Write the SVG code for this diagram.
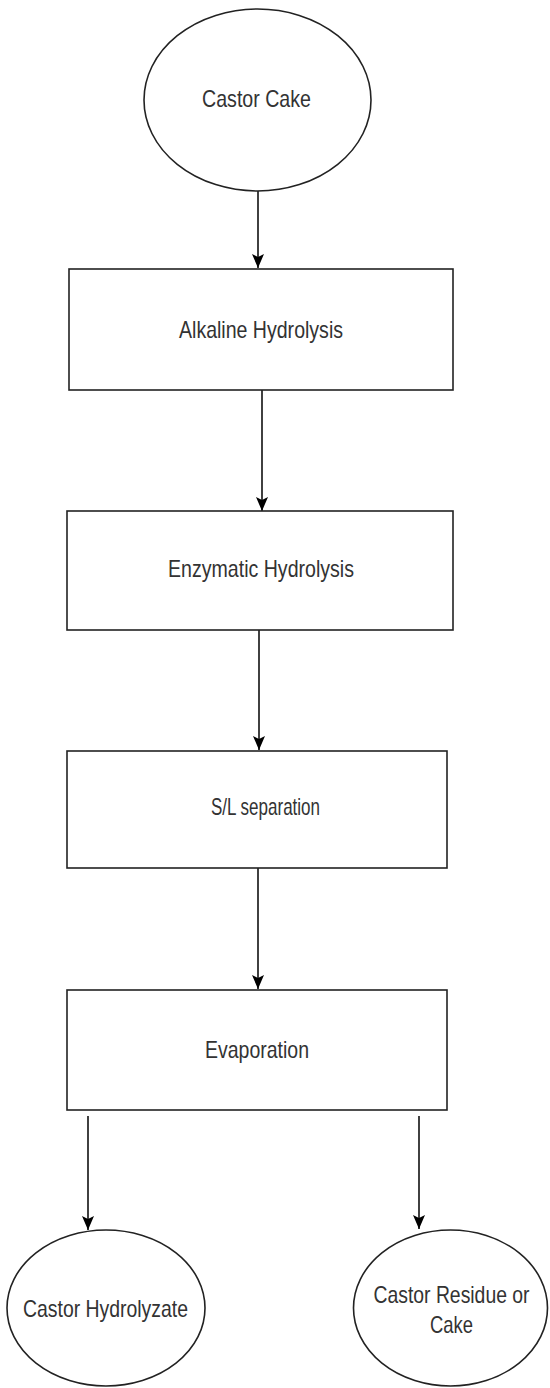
<svg xmlns="http://www.w3.org/2000/svg" width="550" height="1388" viewBox="0 0 550 1388">
<defs>
<marker id="arr" markerUnits="userSpaceOnUse" markerWidth="14" markerHeight="14" viewBox="0 0 14 14" refX="14" refY="7" orient="auto">
<path d="M0,1 L14,7 L0,13 L3,7 Z" fill="#000"/>
</marker>
<style>
.shape{fill:#fff;stroke:#222;stroke-width:1.6}
.lbl{font-family:"Liberation Sans",Arial,sans-serif;font-size:24px;fill:#333;text-anchor:middle}
.edge{fill:none;stroke:#111;stroke-width:1.6;marker-end:url(#arr)}
</style>
</defs>
<rect width="550" height="1388" fill="#fff"/>
<g id="connectors">
<path class="edge" d="M258,191 L258,268"/>
<path class="edge" d="M262,390 L262,511"/>
<path class="edge" d="M259,630 L259,750"/>
<path class="edge" d="M258,868 L258,989"/>
<path class="edge" d="M88,1116 L88,1230"/>
<path class="edge" d="M419,1116 L419,1229"/>
</g>
<g id="castor-cake">
<ellipse class="shape" cx="257.5" cy="100" rx="113.5" ry="91"/>
<text class="lbl" x="256.5" y="107" textLength="109" lengthAdjust="spacingAndGlyphs">Castor Cake</text>
</g>
<g id="alkaline">
<rect class="shape" x="69" y="269" width="384" height="121"/>
<text class="lbl" x="261" y="338" textLength="164" lengthAdjust="spacingAndGlyphs">Alkaline Hydrolysis</text>
</g>
<g id="enzymatic">
<rect class="shape" x="67" y="511" width="386" height="119"/>
<text class="lbl" x="261" y="577" textLength="186" lengthAdjust="spacingAndGlyphs">Enzymatic Hydrolysis</text>
</g>
<g id="separation">
<rect class="shape" x="67" y="751" width="380" height="117"/>
<text class="lbl" x="265.5" y="815" textLength="109" lengthAdjust="spacingAndGlyphs">S/L separation</text>
</g>
<g id="evaporation">
<rect class="shape" x="67" y="990" width="380" height="120"/>
<text class="lbl" x="257" y="1058" textLength="104" lengthAdjust="spacingAndGlyphs">Evaporation</text>
</g>
<g id="hydrolyzate">
<ellipse class="shape" cx="106" cy="1308" rx="99" ry="78"/>
<text class="lbl" x="105.5" y="1317" textLength="165" lengthAdjust="spacingAndGlyphs">Castor Hydrolyzate</text>
</g>
<g id="residue">
<ellipse class="shape" cx="450.5" cy="1308" rx="97" ry="78"/>
<text class="lbl" x="451.5" y="1303" textLength="156" lengthAdjust="spacingAndGlyphs">Castor Residue or</text>
<text class="lbl" x="451.5" y="1333" textLength="43" lengthAdjust="spacingAndGlyphs">Cake</text>
</g>
</svg>
